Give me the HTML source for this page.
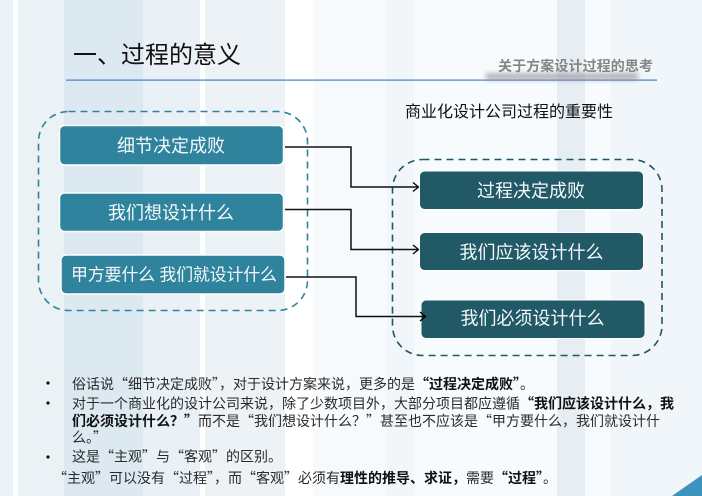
<!DOCTYPE html>
<html lang="zh">
<head>
<meta charset="utf-8">
<title>过程的意义</title>
<style>
html,body{margin:0;padding:0;background:#fff}
svg{display:block}
text{font-family:"Liberation Sans","Noto Sans CJK SC",sans-serif}
text.body{font-family:"Noto Sans CJK SC","Liberation Sans",sans-serif;font-size:14px;fill:#2a2a2a;font-weight:400}
.b{font-weight:700;fill:#111}
.w{fill:#f4f9fb;font-size:18px;text-anchor:middle}
</style>
</head>
<body>
<svg width="702" height="496" viewBox="0 0 702 496" xmlns="http://www.w3.org/2000/svg" lang="zh-CN">
<defs>
<filter id="bl" x="-10%" y="-150%" width="120%" height="400%"><feGaussianBlur stdDeviation="2.4"/></filter>
<marker id="ar" markerWidth="10" markerHeight="12" refX="7" refY="6" orient="auto" markerUnits="userSpaceOnUse"><path d="M2 1.500 L7.500 6 L2 10.500" fill="none" stroke="#000" stroke-width="1.3"/></marker>
</defs>
<rect width="702" height="496" fill="#fff"/>
<rect x="0" width="13" height="496" fill="#eaf2f7"/>
<rect x="18" width="46" height="496" fill="#ebf2f6"/>
<rect x="64" width="79" height="496" fill="#dce9f1"/>
<rect x="143" width="57" height="496" fill="#eaf1f6"/>
<rect x="205" width="80" height="496" fill="#edf2f6"/>
<rect x="313" width="74" height="496" fill="#f6fafc"/>
<rect x="387" width="27" height="496" fill="#f0f6f9"/>
<rect x="414" width="143" height="496" fill="#f8fbfd"/>
<rect x="557" width="28" height="496" fill="#e6edf3"/>
<rect x="585" width="26" height="496" fill="#f8fbfd"/>
<rect x="611" width="91" height="496" fill="#f0f6f9"/>
<path d="M672 496 L702 475 L702 496 Z" fill="#3f93c0"/>

<text x="73" y="63" font-size="24" fill="#111" textLength="168">一、过程的意义</text>
<rect x="66" y="79.5" width="591" height="1.2" fill="#4a7fc4"/>
<rect x="486" y="73" width="152" height="7" fill="#8a8a8a" opacity=".6" filter="url(#bl)"/>
<text x="498" y="71" font-size="14" font-weight="700" fill="#858585" textLength="155">关于方案设计过程的思考</text>
<text x="405" y="117" font-size="16" fill="#111" textLength="208">商业化设计公司过程的重要性</text>

<rect x="38.5" y="111.5" width="269" height="199" rx="30" fill="none" stroke="#2f839c" stroke-width="1.6" stroke-dasharray="7 5"/>
<rect x="392.5" y="159.5" width="269.5" height="196" rx="30" fill="none" stroke="#1f5766" stroke-width="1.6" stroke-dasharray="7 5"/>

<g fill="#2f839c" stroke="#fff" stroke-width="1.5">
<rect x="59.5" y="125.5" width="224" height="39.5" rx="5"/>
<rect x="59.5" y="193" width="224" height="38.5" rx="5"/>
<rect x="61" y="255" width="224" height="39" rx="5"/>
</g>
<text class="w" x="171" y="152" textLength="108" lengthAdjust="spacing">细节决定成败</text>
<text class="w" x="171" y="219" textLength="126" lengthAdjust="spacing">我们想设计什么</text>
<text x="71" y="280.500" style="fill:#f4f9fb;font-size:17px" textLength="206">甲方要什么 我们就设计什么</text>

<g fill="#215967" stroke="#fff" stroke-width="1">
<rect x="419.5" y="171" width="224" height="38.5" rx="5"/>
<rect x="419.5" y="232.5" width="224" height="38" rx="5"/>
<rect x="421" y="300" width="224" height="38.5" rx="5"/>
</g>
<text class="w" x="531" y="197" textLength="108">过程决定成败</text>
<text class="w" x="531.500" y="258.500" textLength="144">我们应该设计什么</text>
<text class="w" x="532.500" y="324.500" textLength="144">我们必须设计什么</text>

<g fill="none" stroke="#111" stroke-width="1.5">
<path d="M285 147 H351 V187 H418" marker-end="url(#ar)"/>
<path d="M285 209.500 H351 V249.500 H418" marker-end="url(#ar)"/>
<path d="M286 277 H356 V316.500 H425" marker-end="url(#ar)"/>
</g>

<g fill="#111">
<circle cx="48" cy="383" r="1.6"/><circle cx="48" cy="403" r="1.6"/><circle cx="48" cy="457" r="1.6"/>
</g>
<text class="body" x="72" y="389">俗话说“细节决定成败”，对于设计方案来说，更多的是<tspan class="b">“过程决定成败”</tspan>。</text>
<text class="body" x="72" y="408.500">对于一个商业化的设计公司来说，除了少数项目外，大部分项目都应遵循<tspan class="b">“我们应该设计什么，我</tspan></text>
<text class="body" x="72" y="426"><tspan class="b">们必须设计什么？”</tspan>而不是“我们想设计什么？”甚至也不应该是“甲方要什么，我们就设计什</text>
<text class="body" x="72" y="442.500">么。”</text>
<text class="body" x="72" y="461.500">这是“主观”与“客观”的区别。</text>
<text class="body" x="53" y="483">“主观”可以没有“过程”，而“客观”必须有<tspan class="b">理性的推导、求证，</tspan>需要<tspan class="b">“过程”</tspan>。</text>
</svg>
</body>
</html>
